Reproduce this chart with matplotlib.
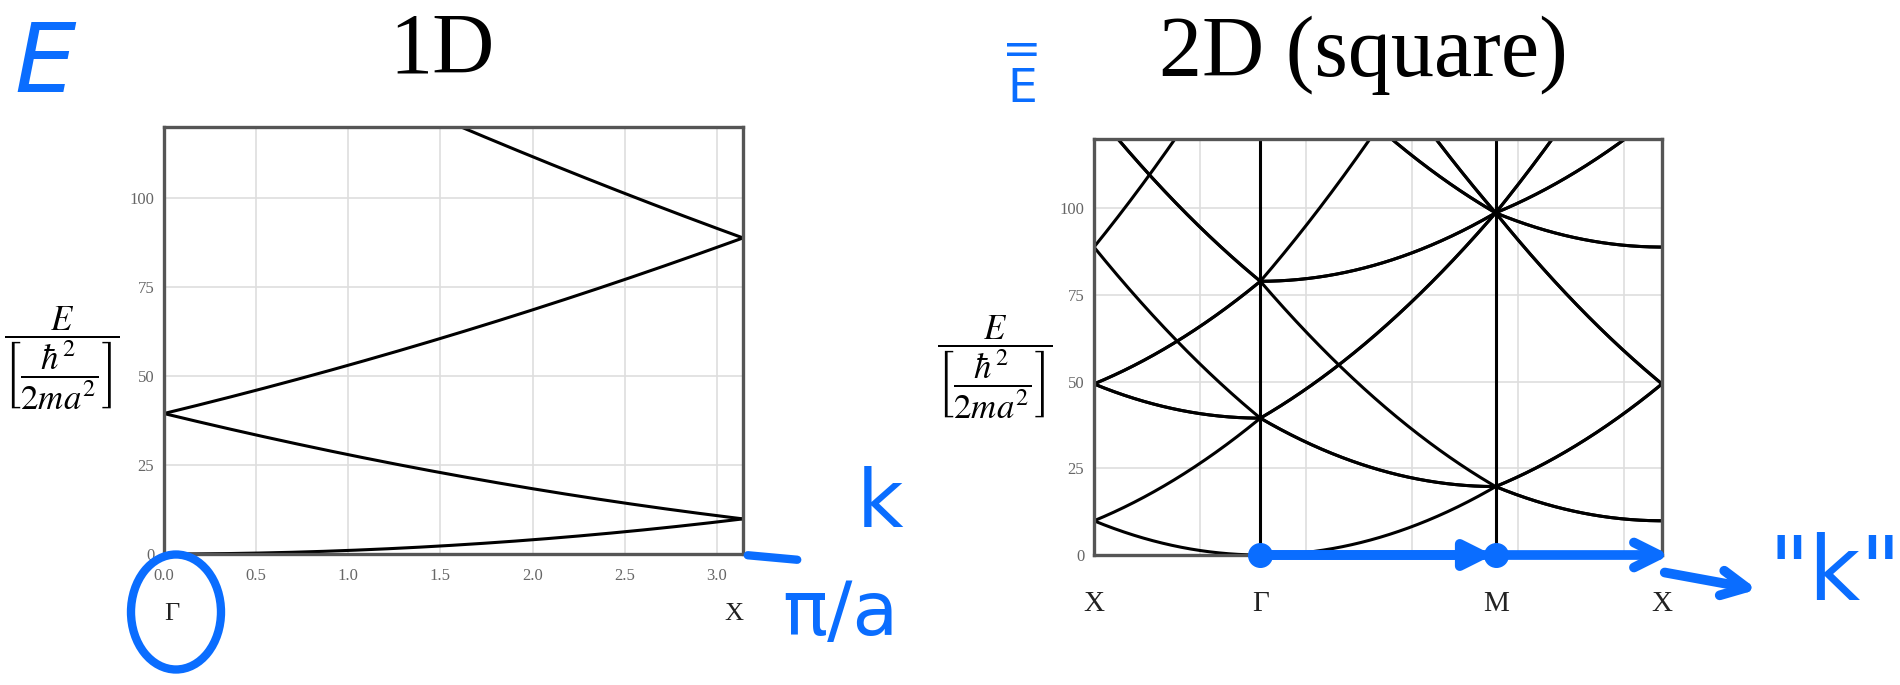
import numpy as np
import matplotlib
matplotlib.use('Agg')
import matplotlib.pyplot as plt
from matplotlib.patches import Ellipse

plt.rcParams['font.family'] = ['Liberation Serif', 'DejaVu Serif']
plt.rcParams['mathtext.fontset'] = 'stix'

# free electron bands, energies in units of hbar^2/(2 m a^2), a = 1
e_max = 120
yticks = [0, 25, 50, 75, 100]
xticks_1d = [0.0, 0.5, 1.0, 1.5, 2.0, 2.5, 3.0]
shifts_1d = [0, -1, 1, -2, 2]             # reciprocal lattice index n (G = 2 pi n)
g_range_2d = [-2, -1, 0, 1, 2]            # n, m for G = 2 pi (n, m)
path_names = ['X', 'Γ', 'M', 'X']
path_points = [(np.pi, 0.0), (0.0, 0.0), (np.pi, np.pi), (np.pi, 0.0)]

grid_col = '#dedede'
frame_col = '#555555'
tick_col = '#666666'
blue = '#0a6dff'

fig = plt.figure(figsize=(19, 6.85), dpi=100)
ax1 = fig.add_axes([164/1900, 1 - 554/685, (743-164)/1900, (554-127)/685])
ax2 = fig.add_axes([1094/1900, 1 - 555/685, (1662-1094)/1900, (555-139)/685])

# ---- 1D chain
k = np.linspace(0, np.pi, 400)
for n in shifts_1d:
    ax1.plot(k, (k + 2*np.pi*n)**2, color='k', lw=2.2)
ax1.set_xlim(0, np.pi)
ax1.set_xticks(xticks_1d)
ax1.set_xticklabels(['%.1f' % t for t in xticks_1d])
ax1.text(0, -0.14, 'Γ', transform=ax1.get_xaxis_transform(), ha='left', va='center',
         fontsize=19, color='#222222')
ax1.text(np.pi, -0.14, 'X', transform=ax1.get_xaxis_transform(), ha='right', va='center',
         fontsize=19, color='#222222')
ax1.grid(True, color=grid_col, lw=1.2)

# ---- 2D square lattice along X - Gamma - M - X
kpath = []
dist = []
d0 = 0.0
ticks_2d = [0.0]
for p, q in zip(path_points[:-1], path_points[1:]):
    t = np.linspace(0, 1, 300)
    seg = np.array(p)[None, :] + t[:, None]*(np.array(q) - np.array(p))[None, :]
    L = np.hypot(q[0]-p[0], q[1]-p[1])
    kpath.append(seg)
    dist.append(d0 + t*L)
    d0 += L
    ticks_2d.append(d0)
kpath = np.vstack(kpath)
dist = np.concatenate(dist)

for n in g_range_2d:
    for m in g_range_2d:
        E = (kpath[:, 0] + 2*np.pi*n)**2 + (kpath[:, 1] + 2*np.pi*m)**2
        if E.min() > e_max:
            continue
        ax2.plot(dist, E, color='k', lw=2.2)
for xs in ticks_2d[1:-1]:
    ax2.axvline(xs, color='k', lw=2.2)
ax2.set_xlim(0, d0)
ax2.set_xticks(ticks_2d)
ax2.set_xticklabels(path_names)
ax2.set_xticks(np.arange(2, d0, 2), minor=True)
ax2.grid(True, which='minor', axis='x', color=grid_col, lw=1.2)
ax2.grid(True, which='major', axis='y', color=grid_col, lw=1.2)

for ax in (ax1, ax2):
    ax.set_ylim(0, e_max)
    ax.set_yticks(yticks)
    ax.tick_params(which='both', length=0, labelsize=12, labelcolor=tick_col)
    ax.tick_params(axis='y', pad=7)
    for s in ax.spines.values():
        s.set_color(frame_col)
        s.set_linewidth(2.4)
    ax.set_axisbelow(True)
ax1.tick_params(axis='x', pad=10)
ax2.tick_params(axis='x', which='major', labelsize=21, labelcolor='#222222', pad=26)

ylab = r'$\dfrac{E}{\left[\dfrac{\hbar^2}{2ma^2}\right]}$'
fig.text(62/1900, 1 - 358/685, ylab, fontsize=25, ha='center', va='center')
fig.text(995/1900, 1 - 367/685, ylab, fontsize=25, ha='center', va='center')

fig.text(442/1900, 1 - 52/685, '1D', fontsize=62, ha='center', va='center')
fig.text(1363/1900, 1 - 55/685, '2D (square)', fontsize=62, ha='center', va='center')

# handwritten notes
fig.text(45/1900, 1 - 65/685, 'E', fontsize=70, color=blue, ha='center', va='center',
         family='DejaVu Sans', style='italic')
fig.text(1022/1900, 1 - 70/685, '=\nE', fontsize=34, color=blue, ha='center', va='center',
         family='DejaVu Sans', linespacing=0.8)
fig.text(880/1900, 1 - 505/685, 'k', fontsize=58, color=blue, ha='center', va='center',
         family='DejaVu Sans')
fig.text(840/1900, 1 - 615/685, 'π/a', fontsize=54, color=blue, ha='center', va='center',
         family='DejaVu Sans')
fig.add_artist(Ellipse((176/1900, 1 - 612/685), 90/1900, 115/685, transform=fig.transFigure,
                       fill=False, ec=blue, lw=6))
ax1.annotate('', xy=(800/1900, 1 - 560/685), xytext=(745/1900, 1 - 555/685),
             xycoords='figure fraction', textcoords='figure fraction',
             arrowprops=dict(arrowstyle='-', color=blue, lw=6))

# path direction along the 2D axis
ax2.plot([ticks_2d[1], ticks_2d[2]], [0, 0], color=blue, lw=7, clip_on=False, zorder=5)
ax2.plot([ticks_2d[1], ticks_2d[2]], [0, 0], 'o', color=blue, ms=17, clip_on=False, zorder=6)
ax2.annotate('', xy=(ticks_2d[2], 0), xytext=(ticks_2d[1], 0),
             arrowprops=dict(arrowstyle='-|>', color=blue, lw=7, mutation_scale=40),
             annotation_clip=False)
ax2.annotate('', xy=(d0 + 0.2, 0), xytext=(ticks_2d[2], 0),
             arrowprops=dict(arrowstyle='->', color=blue, lw=7, mutation_scale=45),
             annotation_clip=False)
ax2.annotate('', xy=(1760/1900, 1 - 590/685), xytext=(1662/1900, 1 - 572/685),
             xycoords='figure fraction', textcoords='figure fraction',
             arrowprops=dict(arrowstyle='->', color=blue, lw=7, mutation_scale=45))
fig.text(1835/1900, 1 - 575/685, '"k"', fontsize=64, color=blue, ha='center', va='center',
         family='DejaVu Sans')

fig.savefig('out.png', dpi=100)
